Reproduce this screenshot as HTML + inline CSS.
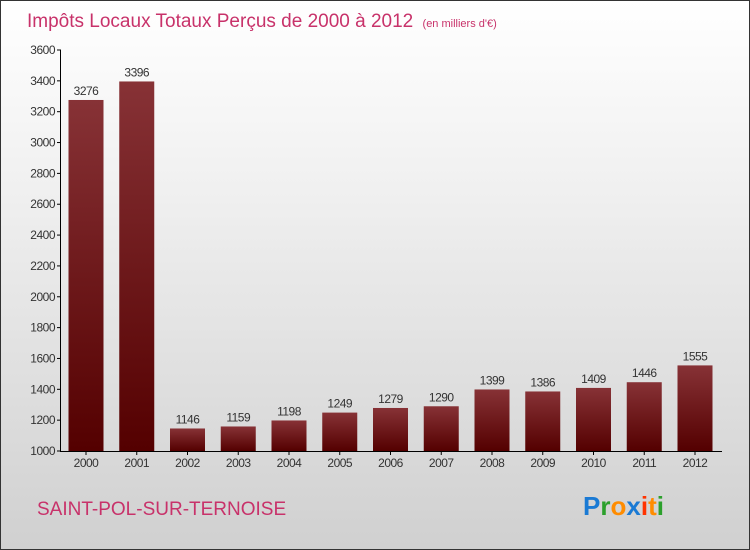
<!DOCTYPE html>
<html><head><meta charset="utf-8"><style>
body{margin:0}
#c{position:relative;width:748px;height:548px;border:1px solid #333;background:linear-gradient(#fff,#f2f2f2 30%,#d0d0d0);overflow:hidden;font-family:"Liberation Sans",sans-serif}
</style></head><body>
<div id="c">
<svg width="748" height="548">
<defs><linearGradient id="g" x1="0" y1="0" x2="0" y2="1"><stop offset="0" stop-color="#873236"/><stop offset="1" stop-color="#540000"/></linearGradient></defs>
<text x="26" y="26" font-size="19" fill="#c8326a">Impôts Locaux Totaux Perçus de 2000 à 2012 <tspan font-size="11" dx="4">(en milliers d'€)</tspan></text>
<g id="axes"></g><g id="bars"></g>
<text x="36" y="514" font-size="19" fill="#c8326a">SAINT-POL-SUR-TERNOISE</text>
<text x="582" y="514" font-size="26" font-weight="bold"><tspan fill="#1a7ad4">P</tspan><tspan fill="#2ca02c">r</tspan><tspan fill="#ff8c00">o</tspan><tspan fill="#1a7ad4">x</tspan><tspan fill="#ff3300">i</tspan><tspan fill="#ff8c00">t</tspan><tspan fill="#2ca02c">i</tspan></text>
</svg></div>
<script>
const years=["2000","2001","2002","2003","2004","2005","2006","2007","2008","2009","2010","2011","2012"];
const values=[3276,3396,1146,1159,1198,1249,1279,1290,1399,1386,1409,1446,1555];
const ticks=[1000,1200,1400,1600,1800,2000,2200,2400,2600,2800,3000,3200,3400,3600];
const NS="http://www.w3.org/2000/svg";
const y=v=>450-(v-1000)*(401/2600);
const x=i=>85+i*50.75;
function mk(t,a,p){const e=document.createElementNS(NS,t);for(const k in a)e.setAttribute(k,a[k]);p.appendChild(e);return e;}
const ax=document.getElementById('axes'),bs=document.getElementById('bars');
const yl=mk('line',{x1:59.5,y1:49,x2:59.5,y2:450,stroke:'#000'},ax);


const xl=mk('line',{x1:59,y1:450.5,x2:721,y2:450.5,stroke:'#000'},ax);


ticks.forEach(t=>{
 mk('line',{x1:56,x2:60,y1:y(t),y2:y(t),stroke:'#000'},ax);
 const tx=mk('text',{x:54,y:y(t)+4,'font-size':12,'text-anchor':'end',fill:'#333','letter-spacing':'-0.5'},ax);
 tx.textContent=t;
 
 
});
years.forEach((yr,i)=>{
 const r=mk('rect',{x:x(i)-17.5,y:y(values[i]),width:35,height:450-y(values[i]),fill:'url(#g)'},bs);
 
 
 const v=mk('text',{x:x(i),y:y(values[i])-5,'font-size':12,'text-anchor':'middle',fill:'#333','letter-spacing':'-0.5'},bs);
 v.textContent=values[i];
 
 
 mk('line',{x1:x(i),x2:x(i),y1:450,y2:454,stroke:'#000'},ax);
 const l=mk('text',{x:x(i),y:466,'font-size':12,'text-anchor':'middle',fill:'#333','letter-spacing':'-0.5'},ax);
 l.textContent=yr;
 
 
});
</script>
</body></html>
